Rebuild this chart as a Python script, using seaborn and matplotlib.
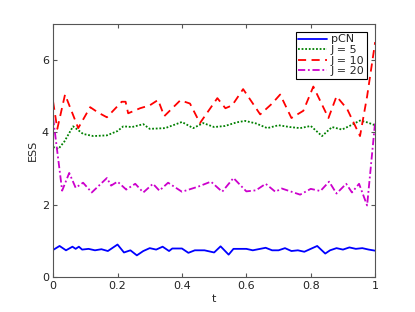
import pandas as pd
import matplotlib
matplotlib.use('Agg')
import matplotlib.pyplot as plt
import seaborn as sns

# valores (t, ESS) para cada série
t_pcn = [0, 0.02, 0.04, 0.06, 0.07, 0.08, 0.09, 0.11, 0.13, 0.15, 0.17, 0.2, 0.22, 0.24, 0.26,
         0.28, 0.3, 0.32, 0.34, 0.36, 0.37, 0.4, 0.42, 0.44, 0.47, 0.5, 0.52, 0.545, 0.56, 0.6,
         0.62, 0.66, 0.68, 0.7, 0.72, 0.74, 0.76, 0.78, 0.82, 0.845, 0.86, 0.88, 0.9, 0.92,
         0.94, 0.96, 0.98, 1.0]
ess_pcn = [0.75, 0.86, 0.74, 0.84, 0.78, 0.84, 0.76, 0.78, 0.74, 0.77, 0.72, 0.9, 0.68, 0.74, 0.6,
           0.72, 0.8, 0.76, 0.84, 0.72, 0.79, 0.79, 0.67, 0.74, 0.74, 0.68, 0.85, 0.62, 0.78, 0.78,
           0.74, 0.81, 0.74, 0.74, 0.8, 0.72, 0.74, 0.7, 0.86, 0.65, 0.74, 0.8, 0.76, 0.82,
           0.78, 0.8, 0.76, 0.73]

t_j5 = [0, 0.016, 0.035, 0.062, 0.08, 0.093, 0.125, 0.167, 0.2, 0.218, 0.245, 0.28, 0.3, 0.348,
        0.4, 0.435, 0.466, 0.5, 0.534, 0.57, 0.596, 0.63, 0.665, 0.7, 0.735, 0.767, 0.8, 0.835,
        0.866, 0.897, 0.925, 0.953, 0.975, 1.0]
ess_j5 = [3.6, 3.54, 3.75, 4.17, 4.05, 3.96, 3.9, 3.92, 4.04, 4.17, 4.15, 4.23, 4.1, 4.12,
          4.29, 4.12, 4.26, 4.15, 4.18, 4.28, 4.32, 4.25, 4.12, 4.2, 4.15, 4.12, 4.18, 3.9,
          4.15, 4.08, 4.2, 4.33, 4.28, 4.2]

t_j10 = [0, 0.013, 0.037, 0.078, 0.115, 0.14, 0.167, 0.213, 0.225, 0.233, 0.27, 0.3, 0.326, 0.345,
         0.395, 0.425, 0.456, 0.51, 0.535, 0.556, 0.59, 0.643, 0.68, 0.705, 0.74, 0.777, 0.808,
         0.855, 0.88, 0.913, 0.953, 0.975, 1.0]
ess_j10 = [4.85, 4.1, 5.05, 4.12, 4.7, 4.55, 4.42, 4.85, 4.85, 4.53, 4.67, 4.75, 4.9, 4.45,
           4.89, 4.8, 4.26, 4.95, 4.67, 4.75, 5.2, 4.5, 4.8, 5.05, 4.4, 4.6, 5.27,
           4.4, 5.0, 4.65, 3.9, 5.0, 6.5]

t_j20 = [0, 0.028, 0.05, 0.07, 0.093, 0.12, 0.167, 0.18, 0.2, 0.227, 0.255, 0.28, 0.31, 0.33,
         0.357, 0.4, 0.45, 0.49, 0.525, 0.56, 0.6, 0.63, 0.66, 0.69, 0.71, 0.767, 0.8, 0.83,
         0.857, 0.88, 0.91, 0.928, 0.95, 0.975, 1.0]
ess_j20 = [4.4, 2.39, 2.88, 2.47, 2.61, 2.34, 2.74, 2.53, 2.64, 2.42, 2.58, 2.34, 2.58, 2.39,
           2.61, 2.36, 2.5, 2.64, 2.36, 2.74, 2.37, 2.4, 2.58, 2.36, 2.45, 2.28, 2.44, 2.38,
           2.64, 2.31, 2.58, 2.34, 2.58, 1.98, 4.3]

rotulos = ['pCN', 'J = 5', 'J = 10', 'J = 20']
cores = ['#0000ff', '#008000', '#ff0000', '#cc00cc']
tracos = [(None, None), (1, 1), (4.5, 3), (4, 1.5, 1, 1.5)]

series = [(t_pcn, ess_pcn), (t_j5, ess_j5), (t_j10, ess_j10), (t_j20, ess_j20)]

sns.set_style('ticks')
plt.rcParams['font.family'] = ['DejaVu Sans']

fig = plt.figure(figsize=(4.15, 3.12), dpi=100)
ax = fig.add_axes([0.128, 0.112, 0.776, 0.811])

for (t, v), rot, cor, tr in zip(series, rotulos, cores, tracos):
    df = pd.DataFrame({'t': t, 'ESS': v})
    sns.lineplot(data=df, x='t', y='ESS', ax=ax, color=cor, linewidth=1.3, label=rot)
    if tr[0] is not None:
        ax.lines[-1].set_dashes(tr)

ax.set_xlim(0, 1)
ax.set_ylim(0, 7)
ax.set_xticks([0, 0.2, 0.4, 0.6, 0.8, 1])
ax.set_xticklabels(['0', '0.2', '0.4', '0.6', '0.8', '1'])
ax.set_yticks([0, 2, 4, 6])
ax.tick_params(direction='in', top=True, right=True, labelsize=8, length=3,
               color='#555555', labelcolor='#222222', pad=3)
for s in ax.spines.values():
    s.set_color('#555555')
    s.set_linewidth(0.8)
ax.set_xlabel('t', fontsize=8, labelpad=2)
ax.set_ylabel('ESS', fontsize=8, labelpad=3)

# legenda: recria com os mesmos traços das linhas
handles = ax.lines[:4]
leg = ax.legend(handles, rotulos, loc='upper right', bbox_to_anchor=(0.975, 0.97), fontsize=8,
                fancybox=False, edgecolor='black', framealpha=1, handlelength=2.6,
                labelspacing=0.05, borderpad=0.25, handletextpad=0.3, borderaxespad=0)
leg.get_frame().set_linewidth(0.8)

fig.savefig('out.png', dpi=100)
